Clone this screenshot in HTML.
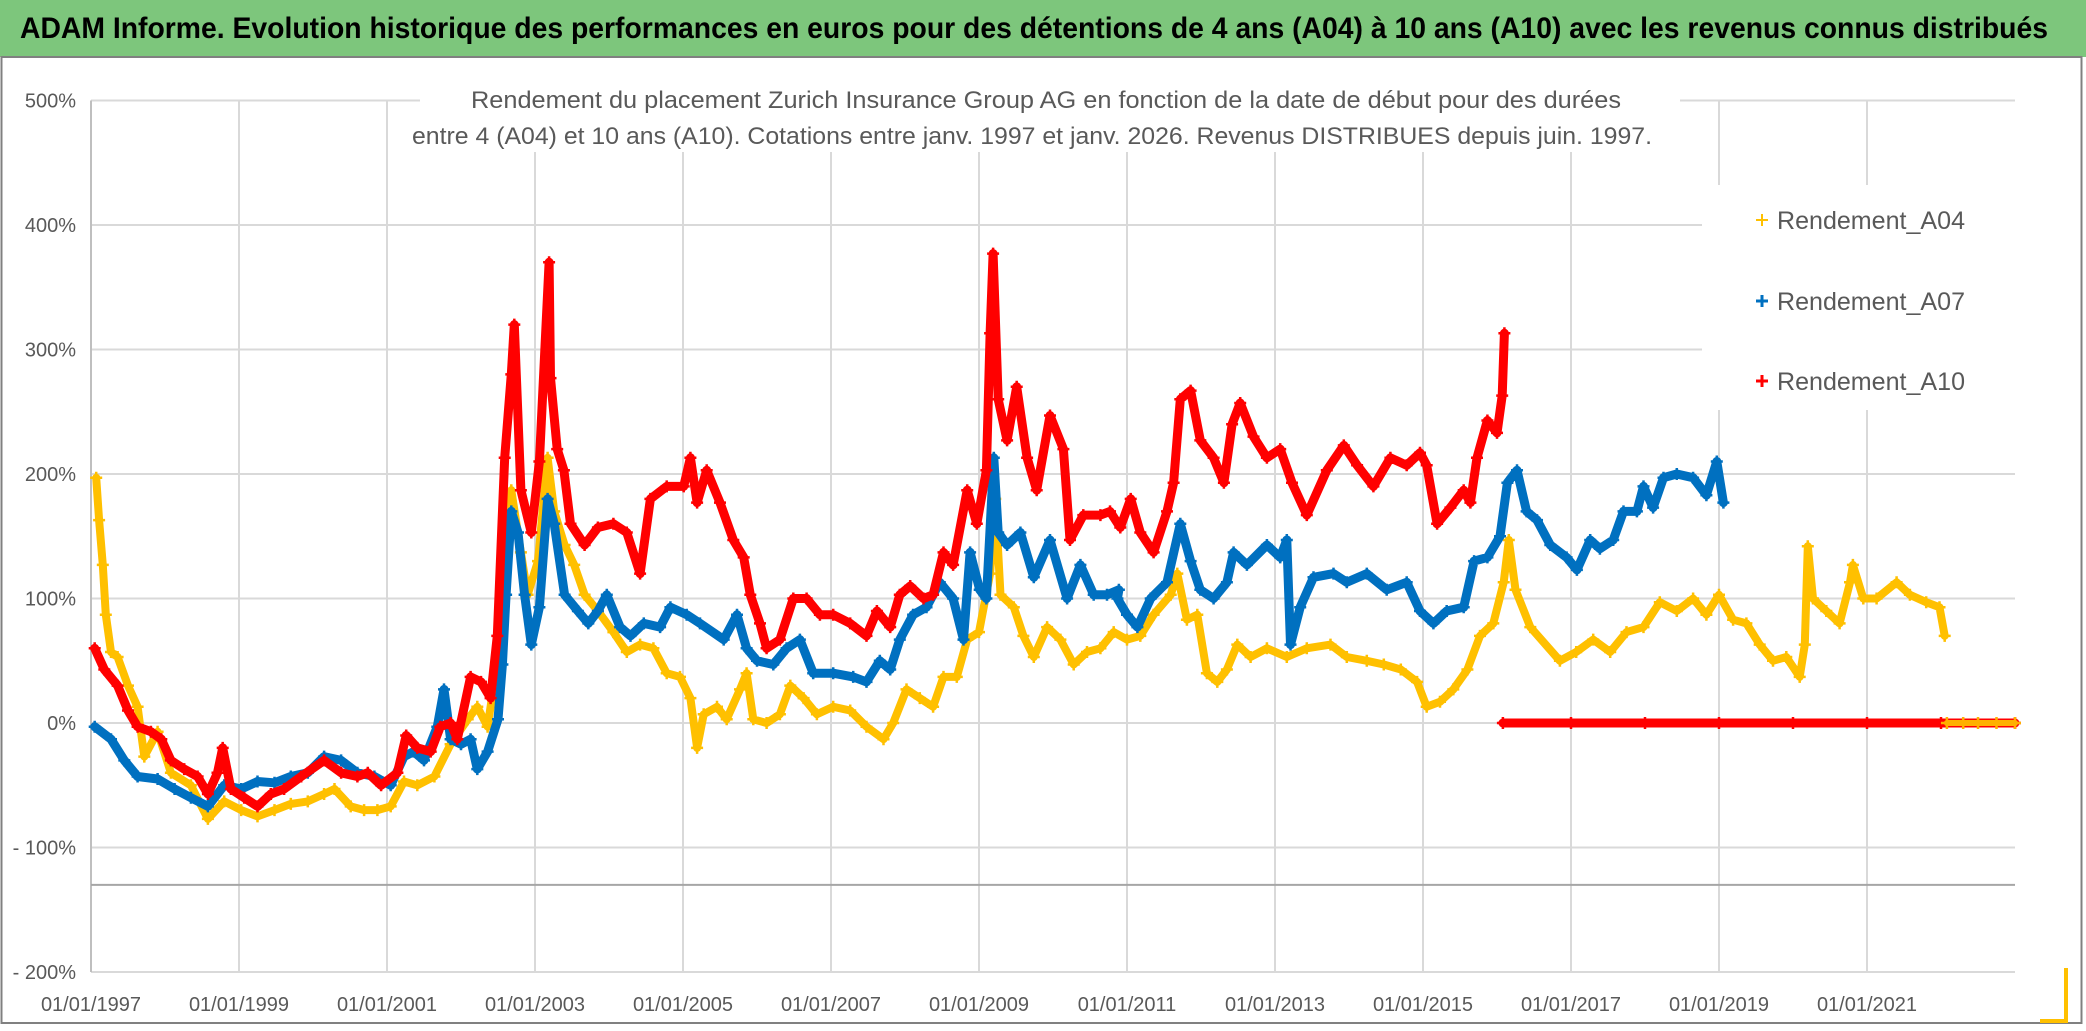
<!DOCTYPE html>
<html><head><meta charset="utf-8"><style>
html,body{margin:0;padding:0;background:#fff;}
svg{display:block;font-family:"Liberation Sans",sans-serif;}
</style></head><body>
<svg id="chart" width="2086" height="1031" viewBox="0 0 2086 1031" xmlns="http://www.w3.org/2000/svg">
<rect x="0" y="0" width="2086" height="1031" fill="#fff"/>
<rect x="0" y="0" width="2086" height="57" fill="#7dc67c"/>
<text x="20" y="38" font-size="30" font-weight="bold" fill="#000" textLength="2028" lengthAdjust="spacingAndGlyphs">ADAM Informe. Evolution historique des performances en euros pour des détentions de 4 ans (A04) à 10 ans (A10) avec les revenus connus distribués</text>
<rect x="1.5" y="57" width="2080" height="966" fill="none" stroke="#808080" stroke-width="2"/>
<g id="grid"></g>
<g id="series"></g>
<rect x="420" y="78" width="1260" height="74" fill="#fff"/>
<text x="471" y="108" font-size="24" fill="#595959" textLength="1150" lengthAdjust="spacingAndGlyphs">Rendement du placement Zurich Insurance Group AG en fonction de la date de début pour des durées</text>
<text x="412" y="144" font-size="24" fill="#595959" textLength="1240" lengthAdjust="spacingAndGlyphs">entre 4 (A04) et 10 ans (A10). Cotations entre janv. 1997 et janv. 2026. Revenus DISTRIBUES depuis juin. 1997.</text>
<g>
<rect x="1702" y="185" width="320" height="225" fill="#fff"/>
<g><path d="M1756 220h12M1762 214v12" stroke="#ffc000" stroke-width="2"/><text x="1777" y="229" font-size="25" fill="#595959" textLength="188" lengthAdjust="spacingAndGlyphs">Rendement_A04</text></g>
<g><path d="M1756 301h12M1762 295v12" stroke="#0070c0" stroke-width="3"/><text x="1777" y="310" font-size="25" fill="#595959" textLength="188" lengthAdjust="spacingAndGlyphs">Rendement_A07</text></g>
<g><path d="M1756 381h12M1762 375v12" stroke="#ff0000" stroke-width="3"/><text x="1777" y="390" font-size="25" fill="#595959" textLength="188" lengthAdjust="spacingAndGlyphs">Rendement_A10</text></g>
</g>
<path d="M2066 968V1021H2040" stroke="#ffc000" stroke-width="4" fill="none"/>
</svg>
<script>
const yTicks=[500,400,300,200,100,0,-100,-200];
const yTickLabels=["500%","400%","300%","200%","100%","0%","- 100%","- 200%"];
const xTicks=[1997,1999,2001,2003,2005,2007,2009,2011,2013,2015,2017,2019,2021];
const xTickLabels=["01/01/1997","01/01/1999","01/01/2001","01/01/2003","01/01/2005","01/01/2007","01/01/2009","01/01/2011","01/01/2013","01/01/2015","01/01/2017","01/01/2019","01/01/2021"];
const refLineValue=-130;

const a04Years=[1997.07,1997.11,1997.16,1997.2,1997.27,1997.36,1997.5,1997.63,1997.72,1997.9,1998.08,1998.35,1998.58,1998.8,1999.03,1999.25,1999.48,1999.7,1999.93,2000.15,2000.29,2000.51,2000.69,2000.87,2001.05,2001.23,2001.41,2001.64,2001.86,2002.09,2002.22,2002.36,2002.5,2002.59,2002.68,2002.81,2002.9,2003.04,2003.17,2003.26,2003.4,2003.53,2003.67,2003.85,2004.06,2004.24,2004.42,2004.6,2004.78,2004.96,2005.1,2005.19,2005.28,2005.46,2005.59,2005.77,2005.86,2005.95,2006.13,2006.31,2006.45,2006.63,2006.81,2007.03,2007.26,2007.48,2007.71,2007.84,2008.02,2008.2,2008.38,2008.52,2008.7,2008.84,2009.0,2009.15,2009.22,2009.29,2009.47,2009.6,2009.74,2009.92,2010.1,2010.28,2010.46,2010.64,2010.82,2011.0,2011.18,2011.36,2011.59,2011.68,2011.81,2011.95,2012.08,2012.22,2012.35,2012.49,2012.67,2012.89,2013.16,2013.43,2013.75,2013.97,2014.24,2014.47,2014.7,2014.92,2015.05,2015.23,2015.41,2015.6,2015.77,2015.95,2016.09,2016.16,2016.25,2016.45,2016.85,2017.07,2017.3,2017.53,2017.75,2017.98,2018.2,2018.43,2018.65,2018.83,2019.0,2019.19,2019.37,2019.55,2019.73,2019.91,2020.09,2020.16,2020.2,2020.27,2020.45,2020.63,2020.77,2020.81,2020.95,2021.13,2021.4,2021.58,2021.8,2021.98,2022.05];
const a04Values=[197,163,127,87,57,53,30,13,-27,-7,-40,-50,-77,-63,-70,-75,-70,-65,-63,-57,-53,-67,-70,-70,-67,-47,-50,-43,-17,3,13,-3,53,160,187,137,103,130,213,170,143,127,103,90,73,57,63,60,40,37,20,-20,7,13,3,27,40,3,0,7,30,20,7,13,10,-3,-13,0,27,20,13,37,37,67,73,120,180,103,93,70,53,77,67,47,57,60,73,67,70,87,103,120,83,87,40,33,43,63,53,60,53,60,63,53,50,47,43,33,13,17,27,43,70,80,113,147,107,77,50,57,67,57,73,77,97,90,100,87,103,83,80,63,50,53,37,63,142,100,90,80,113,127,100,100,113,103,97,93,70];
const a04ZeroYears=[2022.08,2022.3,2022.5,2022.75,2023.0];
const a04ZeroValues=[0,0,0,0,0];

const a07Years=[1997.05,1997.27,1997.45,1997.63,1997.9,1998.13,1998.35,1998.58,1998.8,1999.03,1999.25,1999.48,1999.7,1999.93,2000.15,2000.38,2000.6,2000.83,2001.05,2001.23,2001.36,2001.5,2001.68,2001.77,2001.86,2002.0,2002.13,2002.22,2002.36,2002.5,2002.56,2002.61,2002.68,2002.77,2002.86,2002.95,2003.06,2003.17,2003.26,2003.4,2003.58,2003.72,2003.85,2003.97,2004.15,2004.29,2004.47,2004.69,2004.83,2005.05,2005.23,2005.55,2005.73,2005.86,2006.0,2006.22,2006.4,2006.58,2006.76,2007.03,2007.3,2007.48,2007.66,2007.8,2007.93,2008.11,2008.29,2008.47,2008.65,2008.79,2008.88,2009.01,2009.1,2009.2,2009.26,2009.38,2009.56,2009.74,2009.96,2010.19,2010.37,2010.55,2010.73,2010.89,2010.87,2011.0,2011.14,2011.32,2011.54,2011.72,2011.86,2011.99,2012.17,2012.35,2012.44,2012.62,2012.89,2013.07,2013.16,2013.21,2013.34,2013.52,2013.79,2013.97,2014.24,2014.51,2014.78,2014.96,2015.14,2015.32,2015.55,2015.69,2015.87,2016.04,2016.14,2016.27,2016.4,2016.54,2016.72,2016.94,2017.08,2017.26,2017.39,2017.57,2017.71,2017.89,2017.98,2018.11,2018.25,2018.43,2018.65,2018.83,2018.97,2019.06];
const a07Values=[-3,-13,-30,-43,-45,-53,-60,-67,-50,-53,-47,-48,-43,-40,-27,-30,-40,-43,-50,-27,-23,-30,-3,27,-13,-17,-13,-37,-23,3,47,103,170,153,103,63,93,180,160,103,90,80,90,103,77,70,80,77,93,87,80,67,87,60,50,47,60,67,40,40,37,33,50,43,67,87,93,113,100,67,137,107,100,213,153,143,153,117,147,100,127,103,103,107,100,87,77,100,113,160,130,107,100,113,137,127,143,133,147,63,93,117,120,113,120,107,113,90,80,90,93,130,133,150,193,203,170,163,143,133,123,147,140,147,170,170,190,173,197,200,197,183,210,177];

const a10Years=[1997.05,1997.18,1997.36,1997.5,1997.63,1997.81,1997.95,1998.08,1998.26,1998.44,1998.58,1998.71,1998.78,1998.89,1999.07,1999.25,1999.43,1999.61,1999.84,2000.15,2000.38,2000.6,2000.74,2000.92,2001.14,2001.26,2001.41,2001.59,2001.72,2001.86,2001.95,2002.13,2002.27,2002.4,2002.49,2002.59,2002.68,2002.72,2002.81,2002.95,2003.06,2003.19,2003.21,2003.3,2003.39,2003.48,2003.67,2003.85,2004.06,2004.24,2004.42,2004.56,2004.78,2005.01,2005.1,2005.19,2005.32,2005.5,2005.68,2005.82,2005.91,2006.04,2006.13,2006.31,2006.49,2006.67,2006.85,2007.03,2007.26,2007.48,2007.62,2007.8,2007.93,2008.07,2008.25,2008.38,2008.52,2008.65,2008.84,2008.97,2009.1,2009.15,2009.19,2009.26,2009.38,2009.51,2009.65,2009.78,2009.96,2010.14,2010.23,2010.41,2010.64,2010.77,2010.91,2011.05,2011.18,2011.36,2011.54,2011.63,2011.72,2011.86,2011.99,2012.17,2012.31,2012.42,2012.53,2012.71,2012.89,2013.07,2013.23,2013.43,2013.7,2013.93,2014.11,2014.33,2014.56,2014.78,2014.96,2015.05,2015.19,2015.37,2015.55,2015.64,2015.73,2015.87,2016.0,2016.07,2016.1];
const a10Values=[60,43,30,10,-3,-7,-13,-30,-37,-43,-57,-40,-20,-53,-60,-67,-57,-53,-43,-30,-40,-43,-40,-50,-40,-10,-20,-23,-3,0,-13,37,33,20,70,213,280,320,187,153,210,370,277,220,203,160,143,157,160,153,120,180,190,190,213,177,203,177,147,133,103,80,60,67,100,100,87,87,80,70,90,77,103,110,100,103,137,127,187,160,203,313,377,260,227,270,213,187,247,220,147,167,167,170,157,180,153,137,170,193,260,267,227,213,193,240,257,230,213,220,193,167,203,223,207,190,213,207,217,207,160,173,187,177,213,243,233,263,313,313];
const a10ZeroYears=[2016.08,2017.0,2018.0,2019.0,2020.0,2021.0,2022.0,2023.0];
const a10ZeroValues=[0,0,0,0,0,0,0,0];

const SVGNS="http://www.w3.org/2000/svg";
const X0=91, PX_PER_YEAR=74.0, Y0=723, PX_PER_PCT=1.245;
function xScale(year){return X0+(year-1997)*PX_PER_YEAR;}
function yScale(v){return Y0-v*PX_PER_PCT;}
const plotLeft=xScale(1997), plotRight=xScale(2023), plotTop=yScale(500), plotBottom=yScale(-200);

const grid=document.getElementById('grid');
function mk(tag,attrs,parent){const e=document.createElementNS(SVGNS,tag);for(const k in attrs)e.setAttribute(k,attrs[k]);parent.appendChild(e);return e;}

yTicks.forEach((v,i)=>{
  const y=yScale(v);
  const l=mk('line',{x1:plotLeft,x2:plotRight,y1:y,y2:y,stroke:'#d9d9d9','stroke-width':2},grid);
  
  
  const t=mk('text',{x:76,y:y+7,'font-size':20,fill:'#595959','text-anchor':'end'},grid);
  t.textContent=yTickLabels[i];
  
  
});
xTicks.forEach((yr,i)=>{
  const x=xScale(yr);
  const l=mk('line',{x1:x,x2:x,y1:plotTop,y2:plotBottom,stroke:'#d9d9d9','stroke-width':2},grid);
  
  
  const t=mk('text',{x:x,y:1011,'font-size':20,fill:'#595959','text-anchor':'middle'},grid);
  t.textContent=xTickLabels[i];
  
  
});
const ax=mk('line',{x1:plotLeft,x2:plotLeft,y1:plotTop,y2:plotBottom,stroke:'#bfbfbf','stroke-width':2},grid);


const ref=mk('line',{x1:plotLeft,x2:plotRight,y1:yScale(refLineValue),y2:yScale(refLineValue),stroke:'#a6a6a6','stroke-width':2},grid);



const seriesLayer=document.getElementById('series');
function drawSeries(years,values,color,name,lw){
  const g=mk('g',{},seriesLayer);
  
  
  const n=Math.min(years.length,values.length);
  let d='';
  for(let i=0;i<n;i++){d+=(i?'L':'M')+xScale(years[i]).toFixed(1)+' '+yScale(values[i]).toFixed(1);}
  const p=mk('path',{d:d,fill:'none',stroke:color,'stroke-width':lw,'stroke-linejoin':'round','stroke-linecap':'round'},g);
  
  
  let md='';
  for(let i=0;i<n;i++){
    const x=xScale(years[i]),y=yScale(values[i]);
    md+=`M${(x-6).toFixed(1)} ${y.toFixed(1)}h12M${x.toFixed(1)} ${(y-6).toFixed(1)}v12`;
  }
  const m=mk('path',{d:md,stroke:color,'stroke-width':2.5,fill:'none'},g);
  
  
}
drawSeries(a04Years,a04Values,'#ffc000','series-a04',8);
drawSeries(a07Years,a07Values,'#0070c0','series-a07',9);
drawSeries(a10Years,a10Values,'#ff0000','series-a10',9);
drawSeries(a10ZeroYears,a10ZeroValues,'#ff0000','series-a10-zero',9);
drawSeries(a04ZeroYears,a04ZeroValues,'#ffb000','series-a04-zero',6);
</script>
</body></html>
